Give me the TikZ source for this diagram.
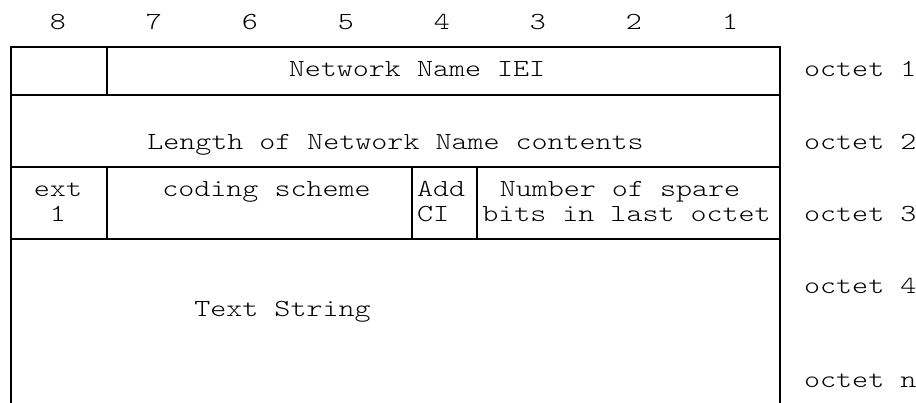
\documentclass[tikz,border=0pt]{standalone}
\usepackage{fontspec}
\newfontfamily\cour[FakeStretch=1.245]{lmmonolt10-regular.otf}
\begin{document}
\begin{tikzpicture}[x=1pt,y=-1pt,
  txt/.style={inner sep=0pt,anchor=base,font=\cour\fontsize{24.5}{25}\selectfont},
  txtw/.style={txt,anchor=base west},
  hline/.style={line width=2pt},
  vline/.style={line width=1.5pt}]
\useasboundingbox (0,0) rectangle (916,403);
% header digits
\foreach \d/\x in {8/58,7/154,6/250,5/346,4/442,3/538,2/634,1/730}
  \node[txt] (h\d) at (\x,30) {\d};
% horizontal lines
\foreach \y in {47,95,167,239}
  \draw[hline] (11,\y) -- (780,\y);
% vertical lines
\draw[vline] (11,46) -- (11,403);
\draw[vline] (780,46) -- (780,403);
\draw[vline] (107,47) -- (107,95);
\draw[vline] (107,167) -- (107,239);
\draw[vline] (412,167) -- (412,239);
\draw[vline] (477,167) -- (477,239);
% field texts
\node[txt] (iei) at (417,77) {Network Name IEI};
\node[txt] (len) at (395.5,150) {Length of Network Name contents};
\node[txt] (ext) at (58,197) {ext};
\node[txt] (ext1) at (58,222) {1};
\node[txt] (cod) at (266.5,197) {coding scheme};
\node[txtw] (add) at (417,197) {Add};
\node[txtw] (ci) at (417,222) {CI};
\node[txt] (num) at (620,197) {Number of spare};
\node[txt] (bits) at (626.5,222) {bits in last octet};
\node[txt] (ts) at (282.5,317) {Text String};
% octet labels
\node[txtw] (o1) at (804,77) {octet 1};
\node[txtw] (o2) at (804,150) {octet 2};
\node[txtw] (o3) at (804,222) {octet 3};
\node[txtw] (o4) at (804,294) {octet 4};
\node[txtw] (on) at (804,388) {octet n};
\end{tikzpicture}
\end{document}
